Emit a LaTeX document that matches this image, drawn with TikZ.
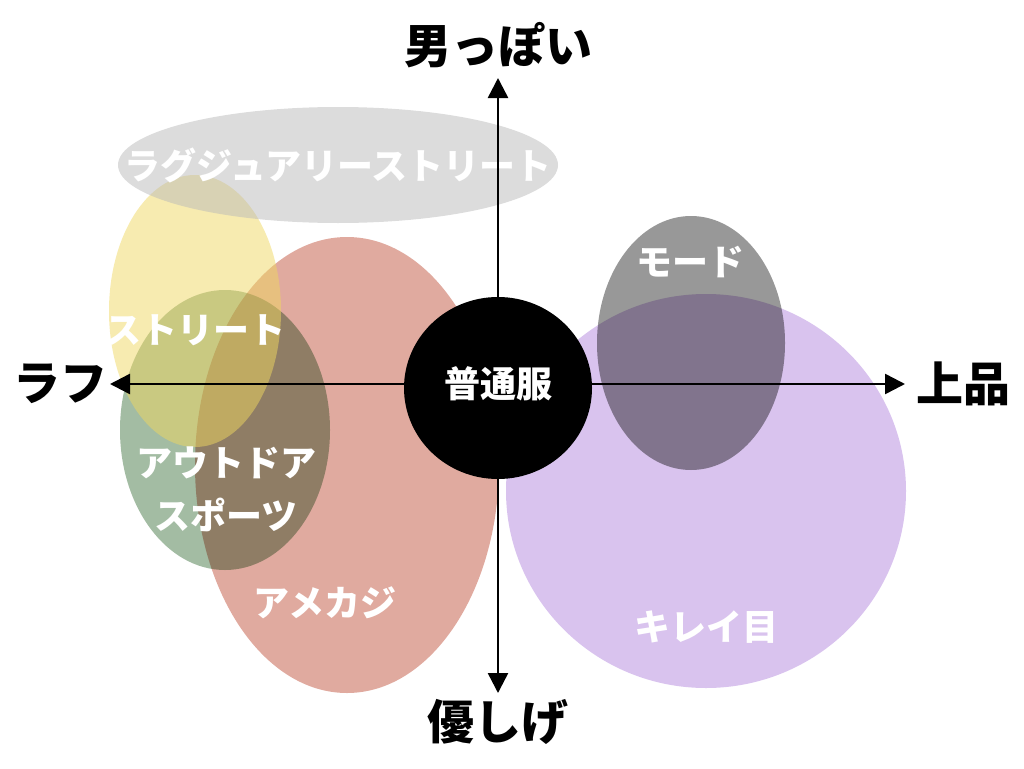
\documentclass[tikz,border=0pt]{standalone}
\usepackage{fontspec}
\usetikzlibrary{arrows.meta,shapes.geometric}
\newfontfamily\jpfont{Noto Sans CJK JP}
\definecolor{luxgray}{HTML}{B9B9B9}
\definecolor{streetyellow}{HTML}{EFD761}
\definecolor{outdoorgreen}{HTML}{A3BCA3}
\definecolor{amered}{HTML}{E0AA9F}
\definecolor{kireipurple}{HTML}{D9C3EE}
\definecolor{modegray}{HTML}{989898}

\begin{document}
\begin{tikzpicture}[x=1pt,y=-1pt,
	axis/.style={line width=2.5pt,-{Triangle[length=20pt,width=20pt]}},
	axislabel/.style={font=\jpfont\bfseries\fontsize{47}{52}\selectfont},
	grouplabel/.style={text=white,align=center,
		font=\jpfont\bfseries\fontsize{36}{53}\selectfont}]
	\useasboundingbox (0,0) rectangle (1024,768);

	% The style groups, laid over each other.
	\begin{scope}[blend mode=multiply]
		\fill[outdoorgreen] (225,430) ellipse [x radius=105pt, y radius=140pt];
		\fill[amered] (347,465) ellipse [x radius=152pt, y radius=228pt];
	\end{scope}
	\fill[streetyellow, opacity=0.5] (195,311) ellipse [x radius=86pt, y radius=136pt];
	\fill[luxgray, opacity=0.5] (338,165) ellipse [x radius=220pt, y radius=58pt];
	\begin{scope}[blend mode=multiply]
		\fill[kireipurple] (706,491) ellipse [x radius=200pt, y radius=197pt];
		\fill[modegray] (691,343) ellipse [x radius=94pt, y radius=127pt];
	\end{scope}

	\node[grouplabel] (lux) at (338,165) {ラグジュアリーストリート};
	\node[grouplabel] (street) at (195,330) {ストリート};
	\node[grouplabel] (outdoor) at (226,489) {アウトドア\\スポーツ};
	\node[grouplabel] (amekaji) at (325,603) {アメカジ};
	\node[grouplabel] (mode) at (690,262) {モード};
	\node[grouplabel] (kirei) at (706,627) {キレイ目};

	% Axes, with the plain clothes at the origin.
	\coordinate (o) at (498,384);
	\coordinate (up) at (498,78);
	\coordinate (down) at (498,693);
	\coordinate (left) at (110,384);
	\coordinate (right) at (905,384);
	\draw[axis] (o) -- (up);
	\draw[axis] (o) -- (down);
	\draw[axis] (o) -- (left);
	\draw[axis] (o) -- (right);

	\node[ellipse, fill=black, minimum width=188pt, minimum height=182pt,
		inner sep=0pt] (plain) at (498,388) {};
	\node[text=white, font=\jpfont\bfseries\fontsize{36}{40}\selectfont]
		(plaintext) at (o) {普通服};

	\node[axislabel] (manly) at (498,45) {男っぽい};
	\node[axislabel] (gentle) at (498,722) {優しげ};
	\node[axislabel] (rough) at (60,384) {ラフ};
	\node[axislabel] (elegant) at (963,384) {上品};
\end{tikzpicture}
\end{document}
